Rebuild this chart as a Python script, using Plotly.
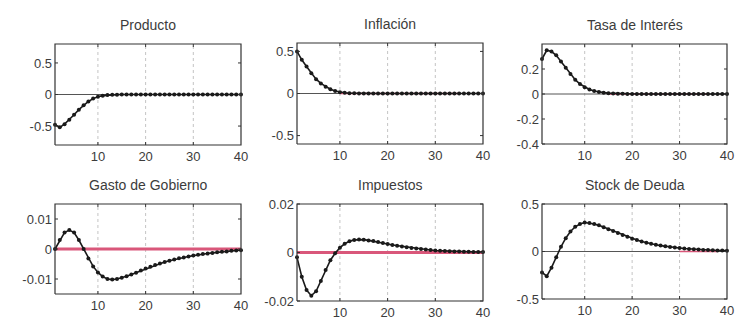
import plotly.graph_objects as go

periods = list(range(1, 41))

producto = [-0.48, -0.52, -0.47, -0.40, -0.32, -0.24, -0.17, -0.11, -0.065, -0.035,
            -0.018, -0.009, -0.004, -0.002, -0.001] + [0.0] * 25
inflacion = [0.50, 0.40, 0.32, 0.24, 0.17, 0.12, 0.08, 0.05, 0.03, 0.016,
             0.008, 0.004, 0.002, 0.001] + [0.0] * 26
tasa = [0.28, 0.35, 0.34, 0.31, 0.26, 0.21, 0.16, 0.115, 0.08, 0.055,
        0.036, 0.024, 0.016, 0.011, 0.007, 0.005, 0.003, 0.002, 0.001] + [0.0] * 21
gasto = [0.0, 0.003, 0.0055, 0.0063, 0.0055, 0.003, 0.0, -0.0032, -0.0058, -0.0078,
         -0.0092, -0.0100, -0.0102, -0.0100, -0.0096, -0.0091, -0.0085, -0.0079, -0.0072, -0.0065,
         -0.0059, -0.0053, -0.0048, -0.0043, -0.0039, -0.0035, -0.0031, -0.0028, -0.0025, -0.0022,
         -0.0019, -0.0017, -0.0015, -0.0013, -0.0011, -0.0009, -0.0008, -0.0006, -0.0005, -0.0004]
impuestos = [-0.002, -0.010, -0.0155, -0.0178, -0.0160, -0.0118, -0.0072, -0.0032, -0.0003, 0.0020,
             0.0036, 0.0046, 0.0052, 0.0054, 0.0053, 0.0050, 0.0047, 0.0043, 0.0039, 0.0035,
             0.0031, 0.0028, 0.0025, 0.0022, 0.0019, 0.0016, 0.0014, 0.0012, 0.0010, 0.0008,
             0.0007, 0.0006, 0.0005, 0.0004, 0.0004, 0.0003, 0.0003, 0.0002, 0.0002, 0.0002]
deuda = [-0.22, -0.26, -0.17, -0.06, 0.05, 0.14, 0.21, 0.26, 0.29, 0.305,
         0.30, 0.29, 0.275, 0.255, 0.235, 0.215, 0.195, 0.175, 0.155, 0.135,
         0.12, 0.105, 0.092, 0.081, 0.071, 0.062, 0.054, 0.047, 0.041, 0.036,
         0.031, 0.027, 0.023, 0.020, 0.017, 0.015, 0.013, 0.011, 0.010, 0.009]

titles = ["Producto", "Inflación", "Tasa de Interés", "Gasto de Gobierno", "Impuestos", "Stock de Deuda"]
series = [producto, inflacion, tasa, gasto, impuestos, deuda]
y_ranges = [[-0.8, 0.8], [-0.6, 0.6], [-0.4, 0.4], [-0.015, 0.015], [-0.02, 0.02], [-0.5, 0.5]]
y_ticks = [[-0.5, 0, 0.5], [-0.5, 0, 0.5], [-0.4, -0.2, 0, 0.2], [-0.01, 0, 0.01], [-0.02, 0, 0.02], [-0.5, 0, 0.5]]
y_ticktext = [["-0.5", "0", "0.5"], ["-0.5", "0", "0.5"], ["-0.4", "-0.2", "0", "0.2"],
              ["-0.01", "0", "0.01"], ["-0.02", "0", "0.02"], ["-0.5", "0", "0.5"]]
x_range = [1, 40]
x_ticks = [10, 20, 30, 40]
red_spans = [None, [10, 35], [15, 36], [1, 40], [1, 40], [30, 38]]
red_widths = [0, 1.5, 1.5, 3, 3, 1.5]

W, H = 735, 324
# pixel boxes of the frames: left, right, top, bottom
boxes = [(55, 241, 44, 145), (297, 483, 43, 144), (542, 727, 44, 144),
         (55, 241, 204, 294), (297, 483, 204, 301), (542, 727, 204, 299)]
PAD = 2  # px of plot area kept outside the frame

fig = go.Figure()
font_col = "#3c3c3c"
font_fam = "Liberation Sans, Arial, sans-serif"
box_col = "#333333"
layout_axes = {}
annotations = []
for i in range(6):
    xa = "x" if i == 0 else f"x{i+1}"
    ya = "y" if i == 0 else f"y{i+1}"
    l, r, t, b = boxes[i]
    y0, y1 = y_ranges[i]
    x0, x1 = x_range
    upx_x = (x1 - x0) / (r - l)   # data units per pixel
    upx_y = (y1 - y0) / (b - t)
    # dotted grid
    for gx in [10, 20, 30]:
        fig.add_trace(go.Scatter(x=[gx, gx], y=[y0, y1], mode="lines",
                                 line=dict(color="#c4c4c4", width=1, dash="dot"),
                                 xaxis=xa, yaxis=ya, showlegend=False))
    fig.add_trace(go.Scatter(x=[x0, x1], y=[0, 0], mode="lines",
                             line=dict(color="#555555", width=1),
                             xaxis=xa, yaxis=ya, showlegend=False))
    if red_spans[i]:
        fig.add_trace(go.Scatter(x=red_spans[i], y=[0, 0], mode="lines",
                                 line=dict(color="#d9577a", width=red_widths[i]),
                                 xaxis=xa, yaxis=ya, showlegend=False))
    fig.add_trace(go.Scatter(x=periods, y=series[i], mode="lines+markers",
                             line=dict(color="#1a1a1a", width=1.6),
                             marker=dict(color="#1a1a1a", size=4),
                             xaxis=xa, yaxis=ya, showlegend=False))
    # inside tick marks
    dx, dy = 3 * upx_x, 3 * upx_y
    tx, ty = [], []
    for tv in x_ticks[:-1]:
        tx += [tv, tv, None, tv, tv, None]
        ty += [y0, y0 + dy, None, y1, y1 - dy, None]
    for tv in y_ticks[i]:
        tx += [x0, x0 + dx, None, x1, x1 - dx, None]
        ty += [tv, tv, None, tv, tv, None]
    fig.add_trace(go.Scatter(x=tx, y=ty, mode="lines", line=dict(color=box_col, width=1),
                             xaxis=xa, yaxis=ya, showlegend=False))
    # frame (inside the plot area)
    fig.add_trace(go.Scatter(x=[x0, x1, x1, x0, x0], y=[y0, y0, y1, y1, y0], mode="lines",
                             line=dict(color=box_col, width=1.2),
                             xaxis=xa, yaxis=ya, showlegend=False))
    # subplot title
    annotations.append(dict(x=(l + r) / 2 / W, y=1 - (t - 19) / H, xref="paper", yref="paper",
                            text=titles[i], showarrow=False, xanchor="center", yanchor="middle",
                            font=dict(family=font_fam, size=14, color=font_col)))
    common = dict(showgrid=False, zeroline=False, showline=False, ticks="",
                  tickfont=dict(family=font_fam, size=13, color=font_col))
    xname = "xaxis" if i == 0 else f"xaxis{i+1}"
    yname = "yaxis" if i == 0 else f"yaxis{i+1}"
    layout_axes[xname] = dict(domain=[(l - PAD) / W, (r + PAD) / W],
                              range=[x0 - PAD * upx_x, x1 + PAD * upx_x],
                              tickvals=x_ticks, anchor=ya, **common)
    layout_axes[yname] = dict(domain=[1 - (b + PAD) / H, 1 - (t - PAD) / H],
                              range=[y0 - PAD * upx_y, y1 + PAD * upx_y],
                              tickvals=y_ticks[i], ticktext=y_ticktext[i], anchor=xa, **common)

fig.update_layout(template="none", width=W, height=H, margin=dict(l=0, r=0, t=0, b=0),
                  annotations=annotations, **layout_axes)
fig.write_html("out.html", config={"displayModeBar": False},
               post_script="document.body.style.margin='0';")
